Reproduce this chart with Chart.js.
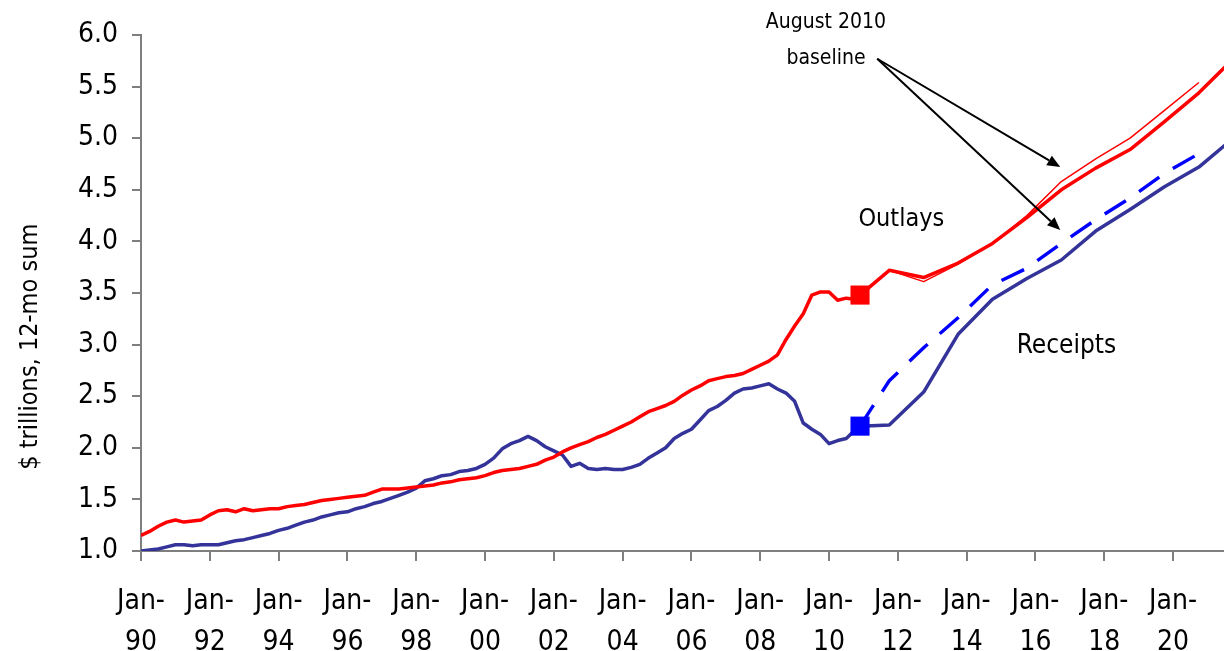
<!DOCTYPE html>
<html>
<head>
<meta charset="utf-8">
<script src="https://cdn.jsdelivr.net/npm/chart.js@4.4.1/dist/chart.umd.min.js"></script>
<style>
  html, body { margin: 0; padding: 0; background: #ffffff; }
  #wrap { width: 1224px; height: 651px; position: relative; }
</style>
</head>
<body>
<div id="wrap"><canvas id="c" width="1224" height="651"></canvas></div>
<script>
// ---- Data ----
// Historical 12-month sums, sampled quarterly (decimal years; Jan-90 = 1990.0)
const histDates = [
  1990.00, 1990.25, 1990.50, 1990.75, 1991.00, 1991.25, 1991.50, 1991.75,
  1992.00, 1992.25, 1992.50, 1992.75, 1993.00, 1993.25, 1993.50, 1993.75,
  1994.00, 1994.25, 1994.50, 1994.75, 1995.00, 1995.25, 1995.50, 1995.75,
  1996.00, 1996.25, 1996.50, 1996.75, 1997.00, 1997.25, 1997.50, 1997.75,
  1998.00, 1998.25, 1998.50, 1998.75, 1999.00, 1999.25, 1999.50, 1999.75,
  2000.00, 2000.25, 2000.50, 2000.75, 2001.00, 2001.25, 2001.50, 2001.75,
  2002.00, 2002.25, 2002.50, 2002.75, 2003.00, 2003.25, 2003.50, 2003.75,
  2004.00, 2004.25, 2004.50, 2004.75, 2005.00, 2005.25, 2005.50, 2005.75,
  2006.00, 2006.25, 2006.50, 2006.75, 2007.00, 2007.25, 2007.50, 2007.75,
  2008.00, 2008.25, 2008.50, 2008.75, 2009.00, 2009.25, 2009.50, 2009.75,
  2010.00, 2010.25, 2010.50, 2010.75, 2010.90
];
const outlaysHist = [
  1.15, 1.19, 1.24, 1.28, 1.30, 1.28, 1.29, 1.30,
  1.35, 1.39, 1.40, 1.38, 1.41, 1.39, 1.40, 1.41,
  1.41, 1.43, 1.44, 1.45, 1.47, 1.49, 1.50, 1.51,
  1.52, 1.53, 1.54, 1.57, 1.60, 1.60, 1.60, 1.61,
  1.62, 1.63, 1.64, 1.66, 1.67, 1.69, 1.70, 1.71,
  1.73, 1.76, 1.78, 1.79, 1.80, 1.82, 1.84, 1.88,
  1.91, 1.96, 2.00, 2.03, 2.06, 2.10, 2.13, 2.17,
  2.21, 2.25, 2.30, 2.35, 2.38, 2.41, 2.45, 2.51,
  2.56, 2.60, 2.65, 2.67, 2.69, 2.70, 2.72, 2.76,
  2.80, 2.84, 2.90, 3.05, 3.18, 3.30, 3.48, 3.51,
  3.51, 3.43, 3.45, 3.44, 3.48
];
const receiptsHist = [
  1.00, 1.01, 1.02, 1.04, 1.06, 1.06, 1.05, 1.06,
  1.06, 1.06, 1.08, 1.10, 1.11, 1.13, 1.15, 1.17,
  1.20, 1.22, 1.25, 1.28, 1.30, 1.33, 1.35, 1.37,
  1.38, 1.41, 1.43, 1.46, 1.48, 1.51, 1.54, 1.57,
  1.61, 1.68, 1.70, 1.73, 1.74, 1.77, 1.78, 1.80,
  1.84, 1.90, 1.99, 2.04, 2.07, 2.11, 2.07, 2.01,
  1.97, 1.93, 1.82, 1.85, 1.80, 1.79, 1.80, 1.79,
  1.79, 1.81, 1.84, 1.90, 1.95, 2.00, 2.09, 2.14,
  2.18, 2.27, 2.36, 2.40, 2.46, 2.53, 2.57, 2.58,
  2.60, 2.62, 2.57, 2.53, 2.45, 2.24, 2.18, 2.13,
  2.04, 2.07, 2.09, 2.17, 2.21
];
// Projections (fiscal years), starting from the last actual point
const projDates       = [2010.90, 2011.75, 2012.75, 2013.75, 2014.75, 2015.75, 2016.75, 2017.75, 2018.75, 2019.75, 2020.75, 2021.75];
const outlaysCurrent  = [3.48, 3.72, 3.65, 3.79, 3.98, 4.23, 4.50, 4.71, 4.89, 5.16, 5.44, 5.77];
const receiptsCurrent = [2.21, 2.22, 2.54, 3.10, 3.44, 3.64, 3.82, 4.10, 4.31, 4.53, 4.72, 5.00];
const augDates        = [2010.90, 2011.75, 2012.75, 2013.75, 2014.75, 2015.75, 2016.75, 2017.75, 2018.75, 2019.75, 2020.75];
const outlaysAug2010  = [3.48, 3.72, 3.61, 3.78, 3.98, 4.25, 4.58, 4.80, 5.00, 5.27, 5.54];
const receiptsAug2010 = [2.21, 2.65, 2.97, 3.26, 3.58, 3.74, 3.98, 4.21, 4.42, 4.66, 4.85];
// Axis
const xTickYears  = [1990, 1992, 1994, 1996, 1998, 2000, 2002, 2004, 2006, 2008, 2010, 2012, 2014, 2016, 2018, 2020];
const xTickLabels = ['90', '92', '94', '96', '98', '00', '02', '04', '06', '08', '10', '12', '14', '16', '18', '20'];
const yTickValues = [1.0, 1.5, 2.0, 2.5, 3.0, 3.5, 4.0, 4.5, 5.0, 5.5, 6.0];
const yTitle = '$ trillions, 12-mo sum';

// ---- helpers ----
const pts = (xs, ys) => xs.map((x, i) => ({ x: x, y: ys[i] }));
const hLast = histDates.length - 1;

const FONT = "'DejaVu Sans Condensed', 'Liberation Sans Narrow', sans-serif";

// Annotation plugin (positions in data coordinates)
const annotations = {
  texts: [
    { text: 'August 2010', x: 2009.91, y: 6.12, size: 21 },
    { text: 'baseline',    x: 2009.91, y: 5.77, size: 21 },
    { text: 'Outlays',     x: 2012.10, y: 4.21, size: 25 },
    { text: 'Receipts',    x: 2016.90, y: 2.98, size: 26 }
  ],
  arrows: [
    { from: [2011.40, 5.77], to: [2016.72, 4.72] },
    { from: [2011.40, 5.77], to: [2016.72, 4.11] }
  ]
};

const annotationPlugin = {
  id: 'annot',
  afterDatasetsDraw(chart) {
    const ctx = chart.ctx, xs = chart.scales.x, ys = chart.scales.y;
    ctx.save();
    ctx.fillStyle = '#000';
    ctx.textAlign = 'center';
    ctx.textBaseline = 'middle';
    annotations.texts.forEach(t => {
      ctx.font = t.size + 'px ' + FONT;
      ctx.fillText(t.text, xs.getPixelForValue(t.x), ys.getPixelForValue(t.y));
    });
    ctx.strokeStyle = '#000';
    ctx.lineWidth = 2;
    annotations.arrows.forEach(a => {
      const x1 = xs.getPixelForValue(a.from[0]), y1 = ys.getPixelForValue(a.from[1]);
      const x2 = xs.getPixelForValue(a.to[0]),   y2 = ys.getPixelForValue(a.to[1]);
      const ang = Math.atan2(y2 - y1, x2 - x1);
      const hl = 13, hw = 5.5;
      const bx = x2 - hl * Math.cos(ang), by = y2 - hl * Math.sin(ang);
      ctx.beginPath(); ctx.moveTo(x1, y1); ctx.lineTo(bx, by); ctx.stroke();
      ctx.beginPath();
      ctx.moveTo(x2, y2);
      ctx.lineTo(bx + hw * Math.sin(ang), by - hw * Math.cos(ang));
      ctx.lineTo(bx - hw * Math.sin(ang), by + hw * Math.cos(ang));
      ctx.closePath(); ctx.fill();
    });
    // y-axis title (rotated), placed left of the axis, slightly below centre as in the original
    ctx.font = '25px ' + FONT;
    ctx.translate(30, ys.getPixelForValue(2.98));
    ctx.rotate(-Math.PI / 2);
    ctx.fillText(yTitle, 0, 0);
    ctx.restore();
  }
};

const AXIS_COLOR = '#7f7f7f';

new Chart(document.getElementById('c'), {
  type: 'line',
  data: {
    datasets: [
      { label: 'Outlays marker', data: [{ x: histDates[hLast], y: outlaysHist[hLast] }],
        showLine: false, pointStyle: 'rect', pointRadius: 13.5, backgroundColor: '#ff0000', borderColor: '#ff0000', borderWidth: 0, order: 0 },
      { label: 'Receipts marker', data: [{ x: histDates[hLast], y: receiptsHist[hLast] }],
        showLine: false, pointStyle: 'rect', pointRadius: 13.5, backgroundColor: '#0000ff', borderColor: '#0000ff', borderWidth: 0, order: 0 },
      { label: 'Outlays (Aug 2010 baseline)', data: pts(augDates, outlaysAug2010),
        borderColor: '#ff0000', borderWidth: 1.5, pointRadius: 0, order: 1 },
      { label: 'Receipts (Aug 2010 baseline)', data: pts(augDates, receiptsAug2010),
        borderColor: '#0000ff', borderWidth: 3.4, borderDash: [25, 16], pointRadius: 0, order: 2 },
      { label: 'Outlays', data: pts(histDates, outlaysHist).concat(pts(projDates.slice(1), outlaysCurrent.slice(1))),
        borderColor: '#ff0000', borderWidth: 3.5, pointRadius: 0, order: 3 },
      { label: 'Receipts', data: pts(histDates, receiptsHist).concat(pts(projDates.slice(1), receiptsCurrent.slice(1))),
        borderColor: '#333399', borderWidth: 3.5, pointRadius: 0, order: 4 }
    ]
  },
  options: {
    responsive: false,
    animation: false,
    layout: { autoPadding: false, padding: { top: 35, right: 0, bottom: 0, left: 0 } },
    plugins: { legend: { display: false }, tooltip: { enabled: false } },
    elements: { line: { tension: 0, borderJoinStyle: 'round', borderCapStyle: 'butt' } },
    scales: {
      x: {
        type: 'linear',
        min: 1990,
        max: 2021.48,
        afterBuildTicks(scale) { scale.ticks = xTickYears.map(v => ({ value: v })); },
        afterFit(scale) { scale.height = 100; scale.paddingLeft = 0; scale.paddingRight = 0; },
        ticks: {
          autoSkip: false,
          maxRotation: 0,
          padding: 20,
          color: '#000',
          font: { family: FONT, size: 28, lineHeight: 1.48 },
          callback(value) {
            const i = xTickYears.indexOf(value);
            return i >= 0 ? ['Jan-', xTickLabels[i]] : '';
          }
        },
        grid: { drawOnChartArea: false, drawTicks: true, tickLength: 10, color: AXIS_COLOR, lineWidth: 2 },
        border: { display: true, color: AXIS_COLOR, width: 2 }
      },
      y: {
        type: 'linear',
        min: 1.0,
        max: 6.0,
        afterBuildTicks(scale) { scale.ticks = yTickValues.map(v => ({ value: v })); },
        afterFit(scale) { scale.width = 141; scale.paddingTop = 0; scale.paddingBottom = 0; },
        ticks: {
          padding: 14,
          color: '#000',
          font: { family: FONT, size: 28 },
          callback(value) { return value.toFixed(1); }
        },
        grid: { drawOnChartArea: false, drawTicks: true, tickLength: 9, color: AXIS_COLOR, lineWidth: 2 },
        border: { display: true, color: AXIS_COLOR, width: 2 }
      }
    }
  },
  plugins: [annotationPlugin]
});
</script>
</body>
</html>
